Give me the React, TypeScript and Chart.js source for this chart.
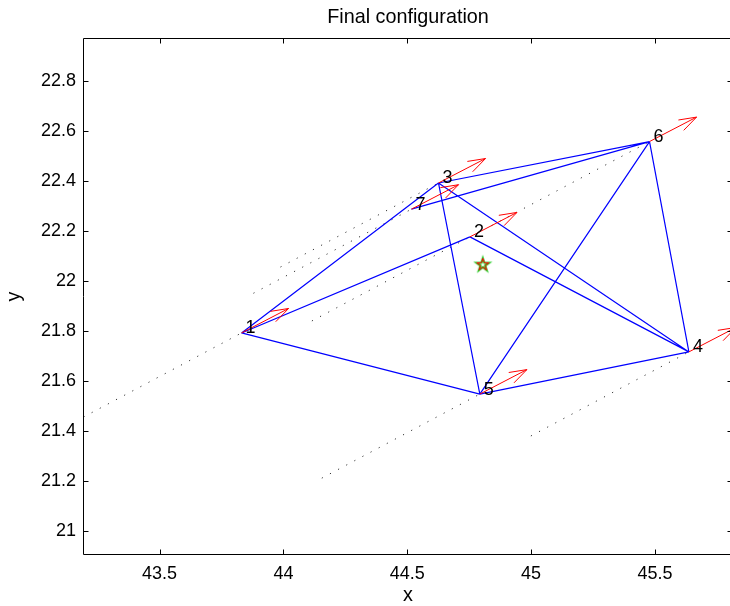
import React, { useEffect, useRef } from "react";
import { Chart, registerables } from "chart.js";

Chart.register(...registerables);

const FONT = "'Liberation Sans', Arial, Helvetica, sans-serif";

// ---- data ----
const agentLabels = ["1", "2", "3", "4", "5", "6", "7"];
const finalX = [43.831, 44.753, 44.626, 45.637, 44.793, 45.478, 44.517];
const finalY = [21.792, 22.177, 22.393, 21.716, 21.547, 22.559, 22.288];
const startX = [43.193, 44.115, 43.988, 44.999, 44.155, 44.84, 43.879];
const startY = [21.455, 21.84, 22.056, 21.379, 21.21, 22.222, 21.951];
const velX = [0.19, 0.19, 0.19, 0.19, 0.19, 0.19, 0.19];
const velY = [0.098, 0.098, 0.098, 0.098, 0.098, 0.098, 0.098];
const edgeFrom = [1, 1, 1, 2, 3, 3, 3, 4, 4, 5, 6];
const edgeTo = [2, 3, 5, 4, 4, 5, 6, 5, 6, 6, 7];
const centerX = [44.805];
const centerY = [22.067];
const xTicks = [43.5, 44, 44.5, 45, 45.5];
const yTicks = [21, 21.2, 21.4, 21.6, 21.8, 22, 22.2, 22.4, 22.6, 22.8];
const xRange = [43.191, 45.815];
const yRange = [20.902, 22.974];

const GAP = { x: NaN, y: NaN };

function edgePoints() {
  const pts: any[] = [];
  for (let k = 0; k < edgeFrom.length; k++) {
    const a = edgeFrom[k] - 1;
    const b = edgeTo[k] - 1;
    pts.push({ x: finalX[a], y: finalY[a] }, { x: finalX[b], y: finalY[b] }, GAP);
  }
  return pts;
}

function trajectoryPoints() {
  const pts: any[] = [];
  for (let i = 0; i < finalX.length; i++) {
    pts.push({ x: startX[i], y: startY[i] }, { x: finalX[i], y: finalY[i] }, GAP);
  }
  return pts;
}

function arrowPoints() {
  const alpha = 0.33;
  const beta = 0.33;
  const pts: any[] = [];
  for (let i = 0; i < finalX.length; i++) {
    const x = finalX[i];
    const y = finalY[i];
    const u = velX[i];
    const v = velY[i];
    const tx = x + u;
    const ty = y + v;
    pts.push({ x, y }, { x: tx, y: ty }, GAP);
    pts.push(
      { x: tx - alpha * (u + beta * v), y: ty - alpha * (v - beta * u) },
      { x: tx, y: ty },
      { x: tx - alpha * (u - beta * v), y: ty - alpha * (v + beta * u) },
      GAP
    );
  }
  return pts;
}

function makeStar() {
  const c = document.createElement("canvas");
  c.width = 20;
  c.height = 20;
  const g = c.getContext("2d")!;
  const cx = 10;
  const cy = 10.5;
  const R = 6.5;
  const r = R * 0.382;
  g.beginPath();
  for (let k = 0; k < 10; k++) {
    const ang = -Math.PI / 2 + (k * Math.PI) / 5;
    const rad = k % 2 === 0 ? R : r;
    const px = cx + rad * Math.cos(ang);
    const py = cy + rad * Math.sin(ang);
    if (k === 0) g.moveTo(px, py);
    else g.lineTo(px, py);
  }
  g.closePath();
  g.lineJoin = "miter";
  g.strokeStyle = "#22cc22";
  g.lineWidth = 2.2;
  g.stroke();
  g.strokeStyle = "#ff0000";
  g.lineWidth = 1;
  g.stroke();
  return c;
}

const decorPlugin = {
  id: "decor",
  afterDatasetsDraw(chart: any) {
    const { ctx, scales } = chart;
    const xs = scales.x;
    const ys = scales.y;
    ctx.save();
    ctx.font = `18px ${FONT}`;
    ctx.fillStyle = "#000";
    ctx.textAlign = "left";
    ctx.textBaseline = "middle";
    agentLabels.forEach((t, i) => {
      ctx.fillText(t, xs.getPixelForValue(finalX[i]) + 4, ys.getPixelForValue(finalY[i]) - 4.5);
    });
    ctx.restore();
  },
  afterDraw(chart: any) {
    const { ctx, chartArea, scales } = chart;
    const xs = scales.x;
    const ys = scales.y;
    const L = Math.round(chartArea.left) + 0.5;
    const R = Math.round(chartArea.right) - 0.5;
    const T = Math.round(chartArea.top) + 0.5;
    const B = Math.round(chartArea.bottom) - 0.5;
    const tl = 5;
    ctx.save();
    ctx.strokeStyle = "#000";
    ctx.lineWidth = 1;
    ctx.beginPath();
    ctx.rect(L, T, R - L, B - T);
    xTicks.forEach((v) => {
      const px = Math.round(xs.getPixelForValue(v)) + 0.5;
      ctx.moveTo(px, B);
      ctx.lineTo(px, B - tl);
      ctx.moveTo(px, T);
      ctx.lineTo(px, T + tl);
    });
    yTicks.forEach((v) => {
      const py = Math.round(ys.getPixelForValue(v)) + 0.5;
      ctx.moveTo(L, py);
      ctx.lineTo(L + tl, py);
      ctx.moveTo(R, py);
      ctx.lineTo(R - tl, py);
    });
    ctx.stroke();
    ctx.restore();
  },
};

export default function App() {
  const ref = useRef<HTMLCanvasElement | null>(null);

  useEffect(() => {
    if (!ref.current) return;
    const star = makeStar();
    const chart = new Chart(ref.current, {
      type: "scatter",
      data: {
        datasets: [
          {
            label: "center",
            data: [{ x: centerX[0], y: centerY[0] }],
            showLine: false,
            pointStyle: star as any,
            pointRadius: 7,
          },
          {
            label: "velocity",
            data: arrowPoints(),
            showLine: true,
            borderColor: "#ff0000",
            borderWidth: 1,
            pointRadius: 0,
            spanGaps: false,
          },
          {
            label: "edges",
            data: edgePoints(),
            showLine: true,
            borderColor: "#0000ff",
            borderWidth: 1.2,
            pointRadius: 0,
            spanGaps: false,
          },
          {
            label: "trajectories",
            data: trajectoryPoints(),
            showLine: true,
            borderColor: "#333333",
            borderWidth: 1,
            borderDash: [1.2, 8],
            pointRadius: 0,
            spanGaps: false,
          },
        ],
      },
      options: {
        responsive: false,
        animation: false,
        events: [],
        layout: { padding: { left: 0, right: 27, top: 0, bottom: 0 } },
        plugins: {
          legend: { display: false },
          tooltip: { enabled: false },
          title: {
            display: true,
            text: "Final configuration",
            fullSize: false,
            color: "#000",
            font: { family: FONT, size: 19.8, weight: "normal", lineHeight: 1.2 },
            padding: { top: 6, bottom: 8.24 },
          },
        },
        scales: {
          x: {
            type: "linear",
            min: xRange[0],
            max: xRange[1],
            afterBuildTicks: (s: any) => {
              s.ticks = xTicks.map((v) => ({ value: v }));
            },
            afterFit: (s: any) => {
              s.height = 51;
            },
            grid: { display: false, drawTicks: false },
            border: { display: false },
            ticks: {
              padding: 8,
              color: "#000",
              font: { family: FONT, size: 18 },
              callback: (v: any) => String(v),
            },
            title: {
              display: true,
              text: "x",
              color: "#000",
              font: { family: FONT, size: 19.8, lineHeight: 1.0 },
              padding: { top: 0, bottom: 0.8 },
            },
          },
          y: {
            type: "linear",
            min: yRange[0],
            max: yRange[1],
            afterBuildTicks: (s: any) => {
              s.ticks = yTicks.map((v) => ({ value: v }));
            },
            afterFit: (s: any) => {
              s.width = 83;
            },
            grid: { display: false, drawTicks: false },
            border: { display: false },
            ticks: {
              padding: 7,
              color: "#000",
              font: { family: FONT, size: 18 },
              callback: (v: any) => String(v),
            },
            title: {
              display: true,
              text: "y",
              color: "#000",
              font: { family: FONT, size: 19.8, lineHeight: 1.0 },
              padding: { top: 4.3, bottom: 0 },
            },
          },
        },
      },
      plugins: [decorPlugin],
    });
    return () => chart.destroy();
  }, []);

  return (
    <div
      style={{
        position: "fixed",
        left: 0,
        top: 0,
        width: 730,
        height: 606,
        overflow: "hidden",
        background: "#fff",
      }}
    >
      <canvas ref={ref} width={760} height={606} style={{ display: "block", width: 760, height: 606 }} />
    </div>
  );
}
